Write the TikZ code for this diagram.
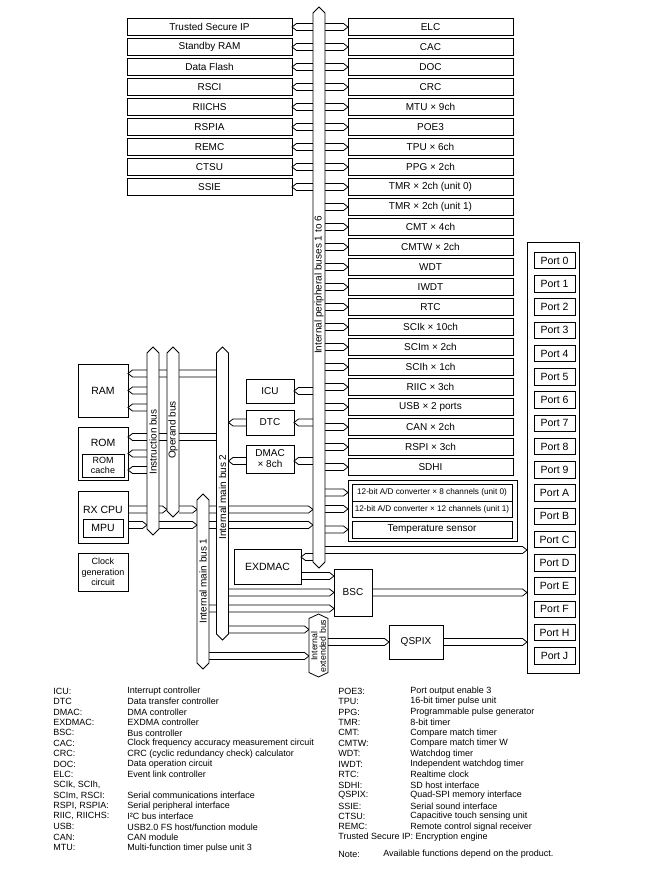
\documentclass[tikz,border=0pt]{standalone}
\usepackage{fontspec}
\setmainfont{Liberation Sans}
\usetikzlibrary{calc}
\tikzset{
 box/.style={draw, inner sep=0pt, outer sep=0pt, align=center, font=\fontsize{10}{12}\selectfont},
 pbox/.style={box, minimum width=165pt, minimum height=17pt},
 smallbox/.style={box, minimum width=48pt},
 bigbox/.style={box, font=\fontsize{10.5}{12}\selectfont},
 conn/.style={draw, line width=0.8pt},
 busline/.style={draw, fill=white, line width=0.8pt},
 buslabel/.style={rotate=90, inner sep=0pt, font=\fontsize{10}{12}\selectfont},
 busgeom/.style={inner sep=0pt, outer sep=0pt, minimum width=12pt},
 leg/.style={anchor=west, inner sep=0pt, font=\fontsize{9}{10}\selectfont},
 portbox/.style={box, minimum width=41pt, minimum height=16.5pt, font=\fontsize{10.5}{12}\selectfont},
 adbox/.style={box, minimum width=160pt, font=\fontsize{8.2}{10}\selectfont},
}
% connector from node #1 (east side) to node #2 (west side), tip at #2, at height of #3
\newcommand\conR[3]{\draw[conn] let \p1=(#1.east), \p2=(#2.west), \p3=#3 in
  (\x1,\y3+3.5pt) -- (\x2-4.5pt,\y3+3.5pt) -- (\x2,\y3) -- (\x2-4.5pt,\y3-3.5pt) -- (\x1,\y3-3.5pt);}
% connector from node #1 (west side) to node #2 (east side), tip at #2
\newcommand\conL[3]{\draw[conn] let \p1=(#1.west), \p2=(#2.east), \p3=#3 in
  (\x1,\y3+3.5pt) -- (\x2+4.5pt,\y3+3.5pt) -- (\x2,\y3) -- (\x2+4.5pt,\y3-3.5pt) -- (\x1,\y3-3.5pt);}
% bus outline with pointed ends
\newcommand\busshape[2]{\draw[busline] (#1.south west) -- (#1.north west) -- ([yshift=#2]#1.north) -- (#1.north east) -- (#1.south east) -- ([yshift=-#2]#1.south) -- cycle;}
\begin{document}
\begin{tikzpicture}[x=1pt,y=-1pt,line width=0.8pt]
\useasboundingbox (0,0) rectangle (658,874);

% ---------- left peripheral boxes ----------
\node[pbox] (tsip)   at (209.5,27)  {Trusted Secure IP};
\node[pbox] (sram)   at (209.5,47)  {Standby RAM};
\node[pbox] (dflash) at (209.5,67)  {Data Flash};
\node[pbox] (rsci)   at (209.5,87)  {RSCI};
\node[pbox] (riichs) at (209.5,107) {RIICHS};
\node[pbox] (rspia)  at (209.5,127) {RSPIA};
\node[pbox] (remc)   at (209.5,147) {REMC};
\node[pbox] (ctsu)   at (209.5,167) {CTSU};
\node[pbox] (ssie)   at (209.5,187) {SSIE};

% ---------- right peripheral boxes ----------
\node[pbox] (elc)  at (430.5,27)  {ELC};
\node[pbox] (cac)  at (430.5,47)  {CAC};
\node[pbox] (doc)  at (430.5,67)  {DOC};
\node[pbox] (crc)  at (430.5,87)  {CRC};
\node[pbox] (mtu)  at (430.5,107) {MTU × 9ch};
\node[pbox] (poe)  at (430.5,127) {POE3};
\node[pbox] (tpu)  at (430.5,147) {TPU × 6ch};
\node[pbox] (ppg)  at (430.5,167) {PPG × 2ch};
\node[pbox] (tmra) at (430.5,187) {TMR × 2ch (unit 0)};
\node[pbox] (tmrb) at (430.5,207) {TMR × 2ch (unit 1)};
\node[pbox] (cmt)  at (430.5,227) {CMT × 4ch};
\node[pbox] (cmtw) at (430.5,247) {CMTW × 2ch};
\node[pbox] (wdt)  at (430.5,267) {WDT};
\node[pbox] (iwdt) at (430.5,287) {IWDT};
\node[pbox] (rtc)  at (430.5,307) {RTC};
\node[pbox] (scik) at (430.5,327) {SCIk × 10ch};
\node[pbox] (scim) at (430.5,347) {SCIm × 2ch};
\node[pbox] (scih) at (430.5,367) {SCIh × 1ch};
\node[pbox] (riic) at (430.5,387) {RIIC × 3ch};
\node[pbox] (usb)  at (430.5,407) {USB × 2 ports};
\node[pbox] (can)  at (430.5,427) {CAN × 2ch};
\node[pbox] (rspi) at (430.5,447) {RSPI × 3ch};
\node[pbox] (sdhi) at (430.5,467) {SDHI};

% A/D group
\node[box, minimum width=169pt, minimum height=61pt] (adgrp) at (432.5,510.5) {};
\node[adbox, minimum height=17pt] (ad0) at (432,492.5) {12-bit A/D converter × 8 channels (unit 0)};
\node[adbox, minimum height=16pt] (ad1) at (432,509) {12-bit A/D converter × 12 channels (unit 1)};
\node[box, minimum width=160pt, minimum height=17pt] (temp) at (432,529.5) {Temperature sensor};

% ---------- ports ----------
\node[box, minimum width=52pt, minimum height=431pt] (ports) at (553,457.5) {};
\foreach \n [count=\k from 0] in {0,1,2,3,4,5,6,7,8,9,A,B,C,D,E,F,H,J}
  \node[portbox] (port\n) at (554.5,{260.5+23.25*\k}) {Port \n};

% ---------- CPU side ----------
\node[bigbox, minimum width=50pt, minimum height=53pt] (ram) at (103,390.5) {RAM};
\node[bigbox, minimum width=50pt, minimum height=53pt] (rom) at (103,453.5) {};
\node[inner sep=0pt, font=\fontsize{10.5}{12}\selectfont] (romt) at (103,443) {ROM};
\node[box, minimum width=42pt, minimum height=23pt, font=\fontsize{9}{9.5}\selectfont] (romc) at (103,465.5) {ROM\\cache};
\node[bigbox, minimum width=50pt, minimum height=52pt] (cpu) at (103,517) {};
\node[inner sep=0pt, font=\fontsize{10.5}{12}\selectfont] (cput) at (103,509.5) {RX CPU};
\node[box, minimum width=40pt, minimum height=18pt, font=\fontsize{10.5}{12}\selectfont] (mpu) at (103,528) {MPU};
\node[box, minimum width=50pt, minimum height=38pt, font=\fontsize{9}{10.5}\selectfont] (clk) at (103,572) {Clock\\generation\\circuit};

\node[smallbox, minimum height=24pt] (icu) at (270,391) {ICU};
\node[smallbox, minimum height=25pt] (dtc) at (270,422.5) {DTC};
\node[smallbox, minimum height=28pt, font=\fontsize{10}{11}\selectfont] (dmac) at (270,459) {DMAC\\× 8ch};

\node[bigbox, minimum width=67pt, minimum height=35pt] (exdmac) at (267.5,566.5) {EXDMAC};
\node[box, minimum width=38pt, minimum height=47pt] (bsc) at (353,592.5) {BSC};
\node[box, minimum width=54pt, minimum height=34pt] (qspix) at (416,642) {QSPIX};

% ---------- bus geometry ----------
\node[busgeom, minimum height=549pt] (pbus) at (319,287.5) {};
\node[busgeom, minimum height=176pt] (ibus) at (153,441) {};
\node[busgeom, minimum height=158pt] (obus) at (173,432) {};
\node[busgeom, minimum height=281pt] (mb2)  at (222.5,493.5) {};
\node[busgeom, minimum height=163pt] (mb1)  at (203,581.5) {};
\node[busgeom, minimum width=19pt, minimum height=54pt] (xbus) at (318.5,645.5) {};

% ---------- connectors ----------
\foreach \b in {tsip,sram,dflash,rsci,riichs,rspia,remc,ctsu,ssie}
  \conL{pbus}{\b}{(\b)};
\foreach \b in {elc,cac,doc,crc,mtu,poe,tpu,ppg,tmra,tmrb,cmt,cmtw,wdt,iwdt,rtc,scik,scim,scih,riic,usb,can,rspi,sdhi}
  \conR{pbus}{\b}{(\b)};
\conR{pbus}{adgrp}{(ad0)};
\conR{pbus}{adgrp}{(ad1)};
\conR{pbus}{adgrp}{(temp)};
\conR{pbus}{ports}{(0,550)};

\conL{pbus}{icu}{(icu)};
\conL{pbus}{dtc}{(dtc)};
\conL{dtc}{mb2}{(dtc)};
\conL{pbus}{dmac}{(0,461)};
\conL{dmac}{mb2}{(0,461)};

\conL{mb2}{ram}{(0,373.5)};
\conL{ibus}{ram}{(0,390.5)};
\conL{ibus}{ram}{(0,407.5)};
\conL{mb2}{rom}{(0,437)};
\conL{ibus}{rom}{(0,453.5)};
\conL{ibus}{rom}{(0,470)};

\conR{cpu}{obus}{(0,509.5)};
\conR{obus}{mb1}{(0,509.5)};
\conR{mb1}{pbus}{(0,509.5)};
\conR{cpu}{ibus}{(0,525)};
\conR{ibus}{mb1}{(0,525)};
\conR{mb1}{pbus}{(0,525)};

\conL{pbus}{exdmac}{(0,557)};
\conR{exdmac}{bsc}{(0,576)};
\conR{mb2}{bsc}{(0,592.5)};
\conR{mb1}{bsc}{(0,608.5)};
\conR{mb2}{xbus}{(0,629.5)};
\conR{mb1}{xbus}{(0,656)};
\conR{xbus}{qspix}{(qspix)};
\conR{qspix}{ports}{(qspix)};
\conR{bsc}{ports}{(bsc)};

% ---------- buses ----------
\busshape{pbus}{6pt}
\busshape{ibus}{6pt}
\busshape{obus}{6pt}
\busshape{mb2}{6pt}
\busshape{mb1}{6pt}
\busshape{xbus}{4.5pt}

\node[buslabel] (pbusl) at (319,285) {Internal peripheral buses 1 to 6};
\node[buslabel] (ibusl) at (153,442) {Instruction bus};
\node[buslabel] (obusl) at (173,430) {Operand bus};
\node[buslabel] (mb2l) at (222.5,497) {Internal main bus 2};
\node[buslabel] (mb1l) at (203,581) {Internal main bus 1};
\node[buslabel, align=center, font=\fontsize{8.8}{8.6}\selectfont] (xbusl) at (318.5,646) {Internal\\extended bus};

% ---------- legend ----------
\foreach \a/\b [count=\k from 0] in {
  ICU:/Interrupt controller,
  DTC/Data transfer controller,
  DMAC:/DMA controller,
  EXDMAC:/EXDMA controller,
  BSC:/Bus controller,
  CAC:/Clock frequency accuracy measurement circuit,
  CRC:/CRC (cyclic redundancy check) calculator,
  DOC:/Data operation circuit,
  ELC:/Event link controller,
  {SCIk, SCIh,}/{},
  {SCIm, RSCI:}/Serial communications interface,
  {RSPI, RSPIA:}/Serial peripheral interface,
  {RIIC, RIICHS:}/I²C bus interface,
  USB:/{USB2.0 FS host/function module},
  CAN:/CAN module,
  MTU:/Multi-function timer pulse unit 3}
{
  \node[leg] (la\k) at (53,{691+10.45*\k}) {\a};
  \node[leg] (lb\k) at (127,{691+10.45*\k}) {\b};
}
\foreach \a/\b [count=\k from 0] in {
  POE3:/Port output enable 3,
  TPU:/16-bit timer pulse unit,
  PPG:/Programmable pulse generator,
  TMR:/8-bit timer,
  CMT:/Compare match timer,
  CMTW:/Compare match timer W,
  WDT:/Watchdog timer,
  IWDT:/Independent watchdog timer,
  RTC:/Realtime clock,
  SDHI:/SD host interface,
  QSPIX:/Quad-SPI memory interface,
  SSIE:/Serial sound interface,
  CTSU:/Capacitive touch sensing unit,
  REMC:/Remote control signal receiver}
{
  \node[leg] (ra\k) at (338,{691+10.45*\k}) {\a};
  \node[leg] (rb\k) at (410,{691+10.45*\k}) {\b};
}
\node[leg] (tsipleg) at (338,837.3) {Trusted Secure IP: Encryption engine};
\node[leg] (notea) at (338,854.5) {Note:};
\node[leg] (noteb) at (383,854.5) {Available functions depend on the product.};
\end{tikzpicture}
\end{document}
